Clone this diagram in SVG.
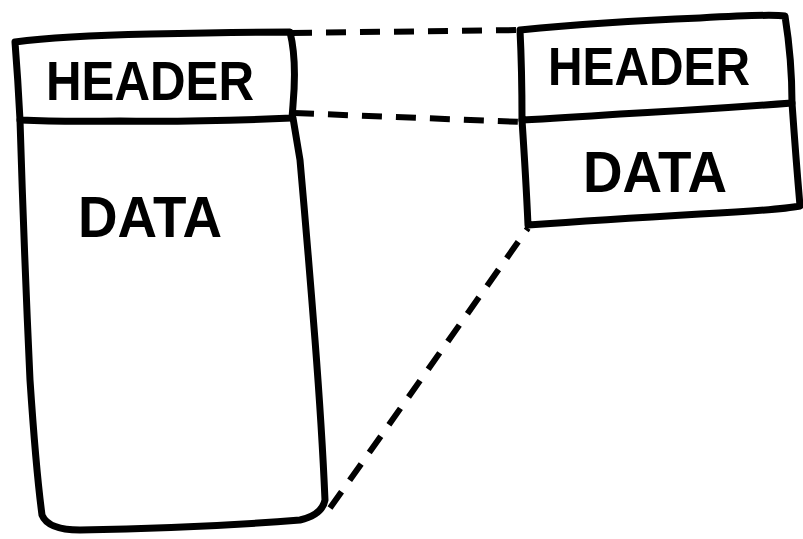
<svg xmlns="http://www.w3.org/2000/svg" width="803" height="539" viewBox="0 0 803 539">
<style>
.ln{fill:none;stroke:#000;stroke-width:7;stroke-linecap:round;stroke-linejoin:round}
.ds{fill:none;stroke:#000;stroke-width:6;stroke-dasharray:20 14;stroke-linecap:butt}
.t{font-family:"Liberation Sans",Arial,sans-serif;font-weight:bold;fill:#000}
</style>
<rect width="803" height="539" fill="#fff"/>
<g id="left-packet">
<path class="ln" d="M15,42 Q60,36 150,34 Q230,32 290,32 Q297,60 293,105 L292,118 Q200,122 120,121 Q60,122 20,120 Q18,80 15,42 Z"/>
<path class="ln" d="M20,120 Q24,250 30,380 Q36,470 42,515 Q48,530 80,530 Q200,528 300,520 Q322,515 325,500 Q322,430 315,340 Q308,250 300,160 L293,118"/>
<text class="t" x="150" y="100" font-size="55" text-anchor="middle" textLength="208" lengthAdjust="spacingAndGlyphs">HEADER</text>
<text class="t" x="150" y="237" font-size="57" text-anchor="middle" textLength="144" lengthAdjust="spacingAndGlyphs">DATA</text>
</g>
<g id="right-packet">
<path class="ln" d="M520,30 Q600,22 700,18 Q770,14 785,16 Q792,60 792,103 Q700,110 620,114 Q560,118 522,120 Q522,70 520,30 Z"/>
<path class="ln" d="M522,120 Q526,180 528,225 Q600,220 700,214 Q780,210 800,206 Q796,160 792,103"/>
<text class="t" x="649" y="85" font-size="54" text-anchor="middle" textLength="202" lengthAdjust="spacingAndGlyphs">HEADER</text>
<text class="t" x="655" y="192" font-size="57" text-anchor="middle" textLength="144" lengthAdjust="spacingAndGlyphs">DATA</text>
</g>
<g id="connectors">
<path class="ds" d="M292,33 L520,30"/>
<path class="ds" d="M294,113 L522,122"/>
<path class="ds" d="M330,508 L528,228"/>
</g>
</svg>
